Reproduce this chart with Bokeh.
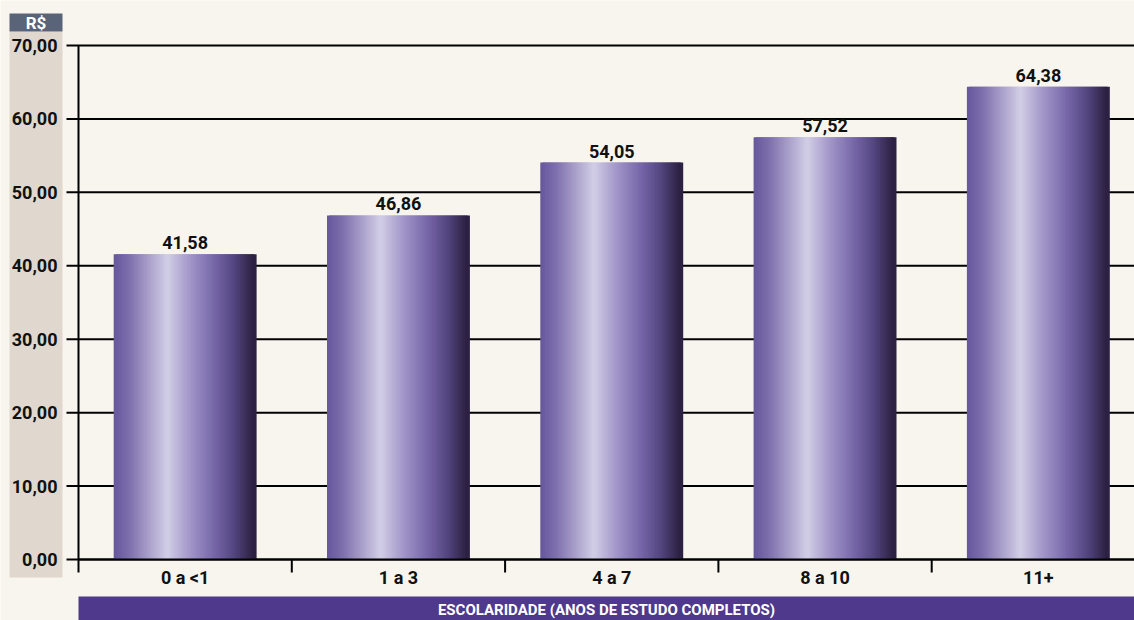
import numpy as np
from bokeh.plotting import figure
from bokeh.models import ColumnDataSource, Range1d
from bokeh.core.properties import value
from bokeh.embed import file_html
from bokeh.resources import INLINE

# ---- data ----
categories = ["0 a <1", "1 a 3", "4 a 7", "8 a 10", "11+"]
values = [41.58, 46.86, 54.05, 57.52, 64.38]
value_labels = ["41,58", "46,86", "54,05", "57,52", "64,38"]
y_ticks = [0, 10, 20, 30, 40, 50, 60, 70]
y_tick_labels = ["0,00", "10,00", "20,00", "30,00", "40,00", "50,00", "60,00", "70,00"]
x_title = "ESCOLARIDADE (ANOS DE ESTUDO COMPLETOS)"
unit_label = "R$"

# ---- style / layout ----
FONT = "Roboto"
BG = "#f8f5ee"
BAND = "#e0d8cf"
HEAD = "#5a6479"
PURPLE = "#4f398c"
INK = "#111111"
BAR_W = 0.67
grad_pos = [0.0, 0.10, 0.38, 0.55, 0.72, 0.86, 1.0]
grad_col = [(104, 88, 158), (124, 110, 172), (210, 206, 230), (160, 148, 200),
            (118, 102, 168), (84, 70, 128), (44, 33, 66)]
N_SLICES = 60
W, H = 1134, 620
AXIS_X_PX, AXIS_Y_PX = 78, 559        # pixel position of the axes
PX_PER_CAT, PX_PER_UNIT = 213.3, 7.343


def dx(px):
    """canvas pixel -> x data coordinate"""
    return -0.5 + (px - AXIS_X_PX) / PX_PER_CAT


def dy(py):
    """canvas pixel -> y data coordinate"""
    return (AXIS_Y_PX - py) / PX_PER_UNIT


p = figure(width=W, height=H, output_backend="svg", toolbar_location=None,
           x_range=Range1d(dx(0), dx(W)), y_range=Range1d(dy(H), dy(0)),
           x_axis_type=None, y_axis_type=None,
           min_border_left=0, min_border_right=0, min_border_top=0, min_border_bottom=0)
p.background_fill_color = BG
p.border_fill_color = BG
p.outline_line_color = None
p.grid.visible = False

idx = np.arange(len(categories))
x_left = -0.5

# left label band with R$ header
p.quad(left=[dx(9)], right=[dx(62)], top=[dy(31)], bottom=[dy(577)],
       fill_color=BAND, line_color=None)
p.quad(left=[dx(9)], right=[dx(62)], top=[dy(13)], bottom=[dy(31)],
       fill_color=HEAD, line_color=None)
p.text(x=[dx(35.5)], y=[dy(22)], text=[unit_label], text_align="center",
       text_baseline="middle", text_color="white", text_font=value(FONT),
       text_font_style="bold", text_font_size="17px")

# horizontal gridlines (with tick stubs left of the axis)
p.segment(x0=dx(66), x1=dx(W), y0=y_ticks, y1=y_ticks, line_color="black", line_width=2)

# y tick labels
p.text(x=[dx(57)] * len(y_ticks), y=y_ticks, text=y_tick_labels, text_align="right",
       text_baseline="middle", text_color=INK, text_font=value(FONT),
       text_font_style="bold", text_font_size="18px")

# gradient bars built from overlapping vertical slices of each bar
sw = 2 * BAR_W / N_SLICES
xs, tops, cols = [], [], []
for k in range(N_SLICES):
    t = k / (N_SLICES - 1)
    rgb = [int(round(np.interp(t, grad_pos, [c[j] for c in grad_col]))) for j in range(3)]
    col = "#%02x%02x%02x" % tuple(rgb)
    for i, v in zip(idx, values):
        xs.append(i - BAR_W / 2 + sw / 2 + t * (BAR_W - sw))
        tops.append(v)
        cols.append(col)
src = ColumnDataSource(dict(x=xs, top=tops, color=cols))
p.vbar(x="x", top="top", bottom=0, width=sw, color="color", line_color=None, source=src)

# axes lines and category separators
p.segment(x0=[x_left], x1=[x_left], y0=[dy(572)], y1=[max(y_ticks)],
          line_color="black", line_width=2)
p.segment(x0=[x_left], x1=[dx(W)], y0=[0], y1=[0], line_color="black", line_width=2)
p.segment(x0=idx + 0.5, x1=idx + 0.5, y0=[0] * len(idx), y1=[dy(572)] * len(idx),
          line_color="black", line_width=2)

# category labels
p.text(x=idx, y=[dy(577)] * len(idx), text=categories, text_align="center",
       text_baseline="middle", text_color=INK, text_font=value(FONT),
       text_font_style="bold", text_font_size="18px")

# value labels
lsrc = ColumnDataSource(dict(x=idx, y=values, t=value_labels))
p.text(x="x", y="y", text="t", source=lsrc, y_offset=-5, text_align="center",
       text_baseline="bottom", text_font=value(FONT), text_font_style="bold",
       text_font_size="18px", text_color=INK)

# bottom title band
p.quad(left=[x_left], right=[dx(W)], top=[dy(596)], bottom=[dy(H)],
       fill_color=PURPLE, line_color=None)
p.text(x=[dx(606)], y=[dy(609)], text=[x_title], text_align="center",
       text_baseline="middle", text_color="white", text_font=value(FONT),
       text_font_style="bold", text_font_size="15px")

html = file_html(p, INLINE)
html = html.replace("<body>", '<body style="background:%s">' % BG, 1)
open("out.html", "w").write(html)
